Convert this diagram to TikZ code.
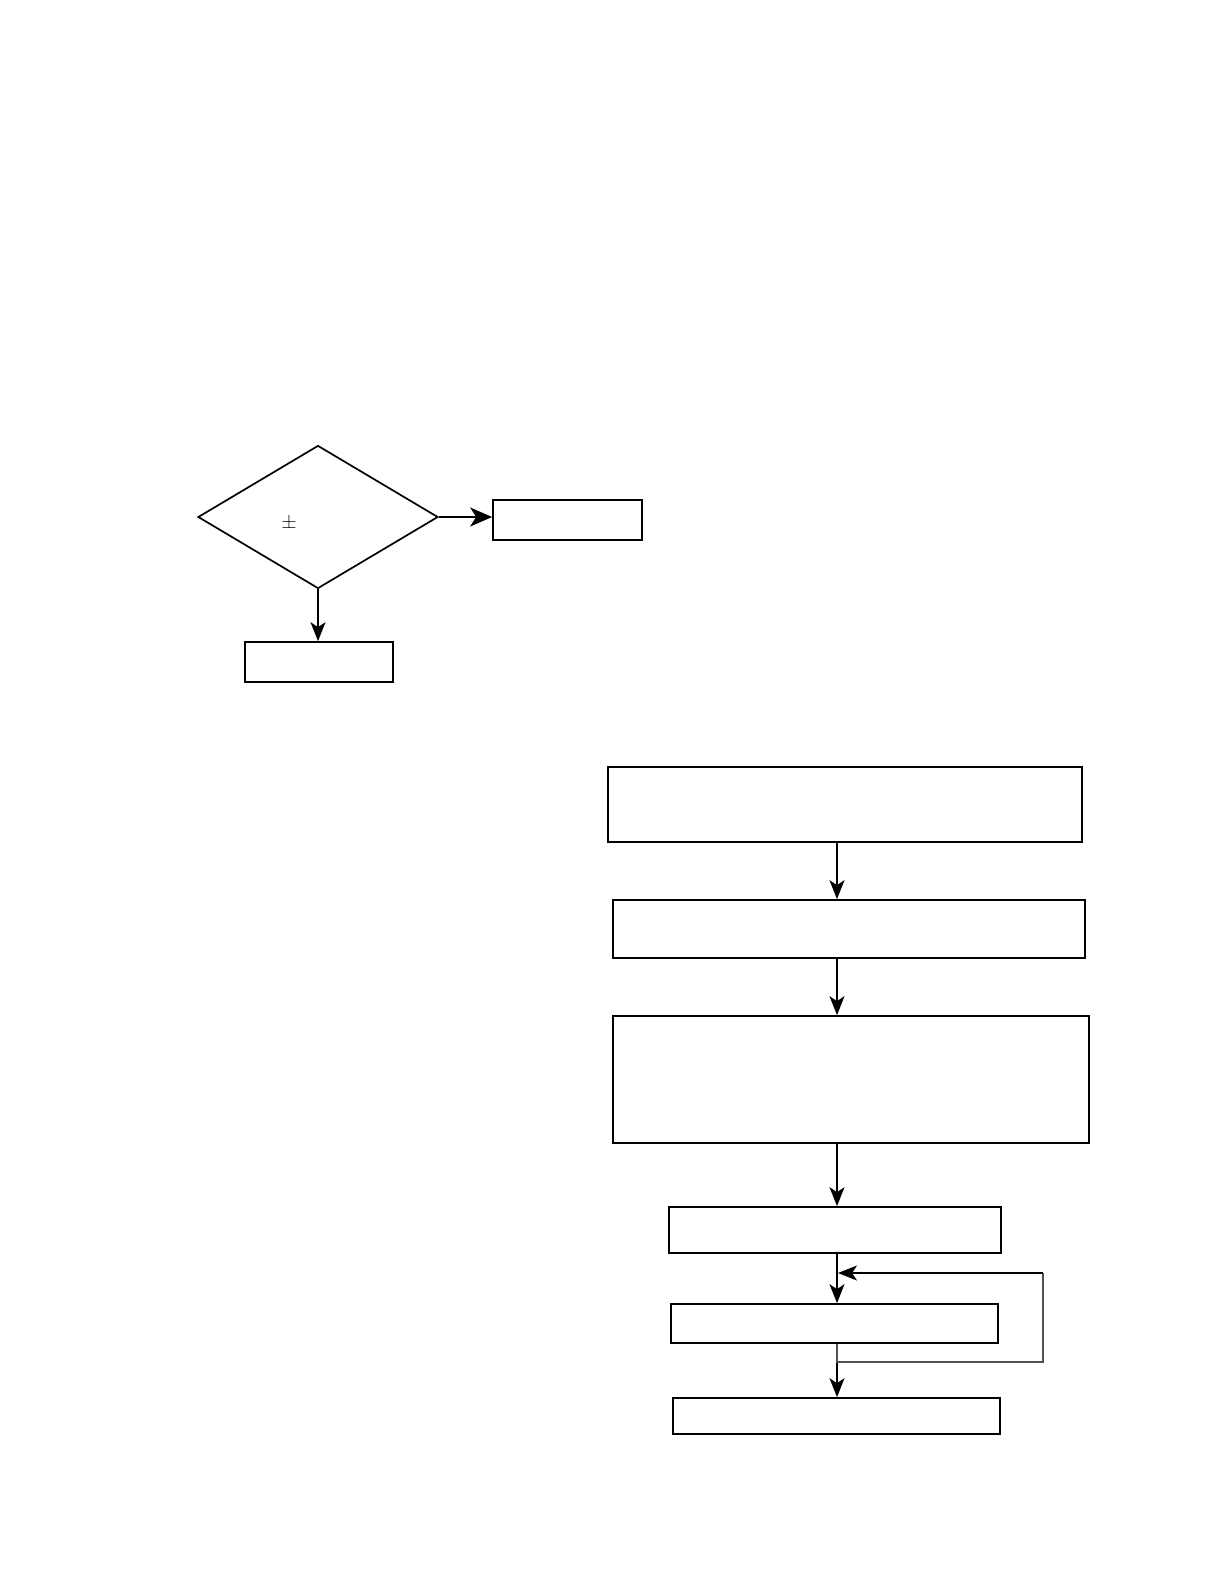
\documentclass[tikz,border=0pt]{standalone}
\usepackage{amsmath}
\usepackage{textcomp}
\usepackage{xcolor}
\usepackage{tikz}
\usetikzlibrary{arrows.meta,positioning,calc,shapes.geometric}
\definecolor{fcedge}{RGB}{0,0,0}
\definecolor{fcloop}{RGB}{80,80,80}
\tikzset{
  fcbox/.style={
    draw=fcedge, line width=1.7pt, fill=white,
    inner sep=0pt, align=center
  },
  stepbox/.style={fcbox, rectangle},
  decide/.style={fcbox, diamond, minimum width=240pt, minimum height=143pt},
  arr/.style={-{Stealth[length=19pt,width=15pt,inset=5pt]}, draw=fcedge, line width=1.7pt},
  bigarr/.style={-{Stealth[length=22pt,width=19pt,inset=6pt]}, draw=fcedge, line width=1.7pt},
  loopline/.style={draw=fcloop, line width=1.3pt},
  sym/.style={font=\fontsize{21}{24}\selectfont\sffamily, inner sep=0pt}
}
\begin{document}
\begin{tikzpicture}[x=1pt, y=-1pt]
  \useasboundingbox (0,0) rectangle (1224,1584);
  \node[decide] (dec) at (318,517) {};
  \node[sym] (pm) at (289,522) {\textpm};
  \node[stepbox, minimum width=149pt, minimum height=40pt] (outR) at (567.5,520) {};
  \node[stepbox, minimum width=148pt, minimum height=40pt] (outD) at (319,662) {};
  \draw[bigarr] (dec.east) -- (dec.east -| outR.west);
  \draw[arr] (dec.south) -- (dec.south |- outD.north);

  \coordinate (axis) at (837,0);
  \node[stepbox, minimum width=474pt, minimum height=75pt] (b1) at (845,804.5) {};
  \node[stepbox, minimum width=472pt, minimum height=58pt] (b2) at (849,929) {};
  \node[stepbox, minimum width=476pt, minimum height=127pt] (b3) at (851,1079.5) {};
  \node[stepbox, minimum width=332pt, minimum height=46pt] (b4) at (835,1230) {};
  \node[stepbox, minimum width=327pt, minimum height=39pt] (b5) at (834.5,1323.5) {};
  \node[stepbox, minimum width=327pt, minimum height=36pt] (b6) at (836.5,1416) {};
  \draw[arr] (b1.south -| axis) -- (b2.north -| axis);
  \draw[arr] (b2.south -| axis) -- (b3.north -| axis);
  \draw[arr] (b3.south -| axis) -- (b4.north -| axis);
  \draw[arr] (b4.south -| axis) -- (b5.north -| axis);
  \draw[arr] (b5.south -| axis) -- (b6.north -| axis);

  \coordinate (rb) at (1043,1362);
  \coordinate (rt) at (1043,1273);
  \draw[loopline] (b5.south -| axis) |- (rb) -- (rt);
  \draw[arr, shorten >=1pt] (rt) -- (rt -| axis);
\end{tikzpicture}
\end{document}
